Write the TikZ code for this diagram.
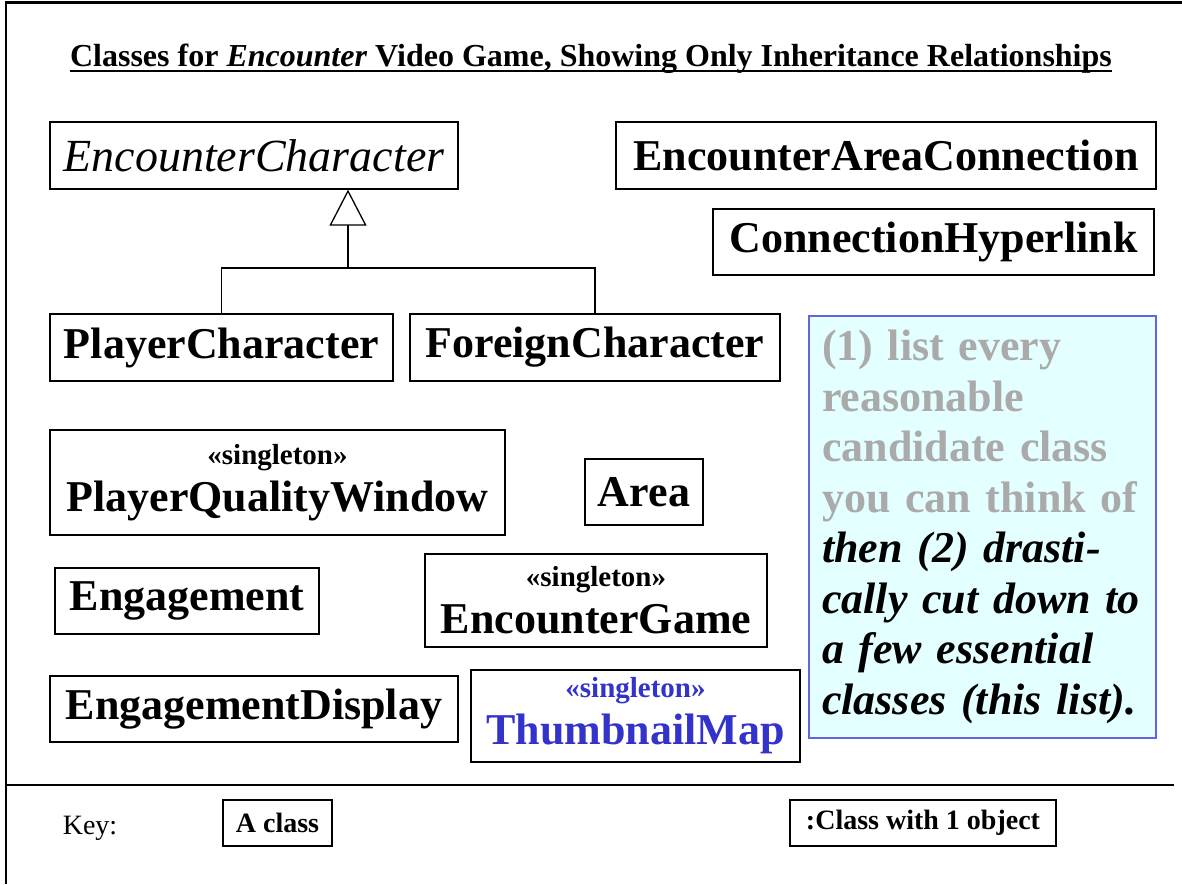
\documentclass[tikz,border=0pt]{standalone}
\usepackage{fontspec}
\setmainfont{Liberation Serif}
\usetikzlibrary{arrows.meta}
\definecolor{notegray}{RGB}{170,170,170}
\definecolor{notefill}{RGB}{228,255,255}
\definecolor{noteedge}{RGB}{100,100,225}
\definecolor{tmblue}{RGB}{51,51,204}
\newcommand{\bigname}{\fontsize{44}{47}\selectfont\bfseries}
\newcommand{\stereo}{\fontsize{29}{30}\selectfont\bfseries}
\begin{document}
\begin{tikzpicture}[x=1pt,y=-1pt,
  classbox/.style={draw, line width=1.3pt, inner sep=0pt, font=\bigname, align=center},
  keybox/.style={draw, line width=1.3pt, inner sep=0pt, font=\fontsize{28}{30}\selectfont\bfseries},
  inh/.style={line width=1.3pt},
]
\useasboundingbox (0,0) rectangle (1182,884);
\fill[white] (0,0) rectangle (1182,884);
% frame
\draw[line width=2.5pt] (1182,2.5) -- (6,2.5) -- (6,884);
% title
\node[anchor=base, inner sep=0pt, font=\fontsize{32}{34}\selectfont\bfseries] (title) at (591,66)
  {Classes for \textit{Encounter} Video Game, Showing Only Inheritance Relationships};
\draw[line width=2pt] ([yshift=-5pt]title.base west) -- ([yshift=-5pt]title.base east);
% classes
\node[classbox, minimum width=408pt, minimum height=67pt, font=\fontsize{46}{48}\selectfont\itshape] (ec) at (254,155.5) {EncounterCharacter};
\node[classbox, minimum width=540pt, minimum height=67pt] (eac) at (886,155.5) {EncounterAreaConnection};
\node[classbox, minimum width=441pt, minimum height=66pt] (ch) at (933.5,242) {ConnectionHyperlink};
\node[classbox, minimum width=343pt, minimum height=67pt] (pc) at (221.5,347.5) {PlayerCharacter};
\node[classbox, minimum width=370pt, minimum height=67pt] (fc) at (595,347.5) {ForeignCharacter};
\node[classbox, minimum width=455pt, minimum height=105pt] (pqw) at (277.5,482.5) {{\stereo «singleton»}\\PlayerQualityWindow};
\node[classbox, minimum width=118pt, minimum height=66pt] (area) at (644,492) {Area};
\node[classbox, minimum width=264pt, minimum height=66pt] (eng) at (187,601) {Engagement};
\node[classbox, minimum width=342pt, minimum height=93pt] (eg) at (596,600.5) {{\stereo «singleton»}\\EncounterGame};
\node[classbox, minimum width=408pt, minimum height=66pt] (ed) at (254,709) {EngagementDisplay};
\node[classbox, minimum width=329pt, minimum height=92pt, text=tmblue] (tm) at (635.5,716) {{\stereo «singleton»}\\ThumbnailMap};
% note
\node[draw=noteedge, fill=notefill, line width=1.3pt, minimum width=347pt, minimum height=422pt,
  text width=321pt, inner sep=0pt, align=left, font=\fontsize{44}{50.5}\selectfont\bfseries] (note) at (982.5,527)
  {\textcolor{notegray}{(1) list every}\\
   \textcolor{notegray}{reasonable}\\
   \textcolor{notegray}{candidate class}\\
   \textcolor{notegray}{you can think of}\\
   \textit{then (2) drasti-}\\
   \textit{cally cut down to}\\
   \textit{a few essential}\\
   \textit{classes (this list).}};
% inheritance
\coordinate (hub) at (348,268);
\draw[inh] (pc.north) |- (hub) -| (fc.north);
\draw[inh, -{Triangle[open, length=36pt, width=37pt, line width=1.3pt]}] (hub) -- (hub |- ec.south);
% separator
\draw[line width=2pt] (6,785) -- (1174,785);
% key
\node[font=\fontsize{28}{30}\selectfont, inner sep=0pt] (key) at (90,828) {Key:};
\node[keybox, minimum width=109pt, minimum height=46pt] (kc) at (277.5,823) {A class};
\node[keybox, minimum width=266pt, minimum height=46pt] (ko) at (923,823) {:Class with 1 object};
\end{tikzpicture}
\end{document}
